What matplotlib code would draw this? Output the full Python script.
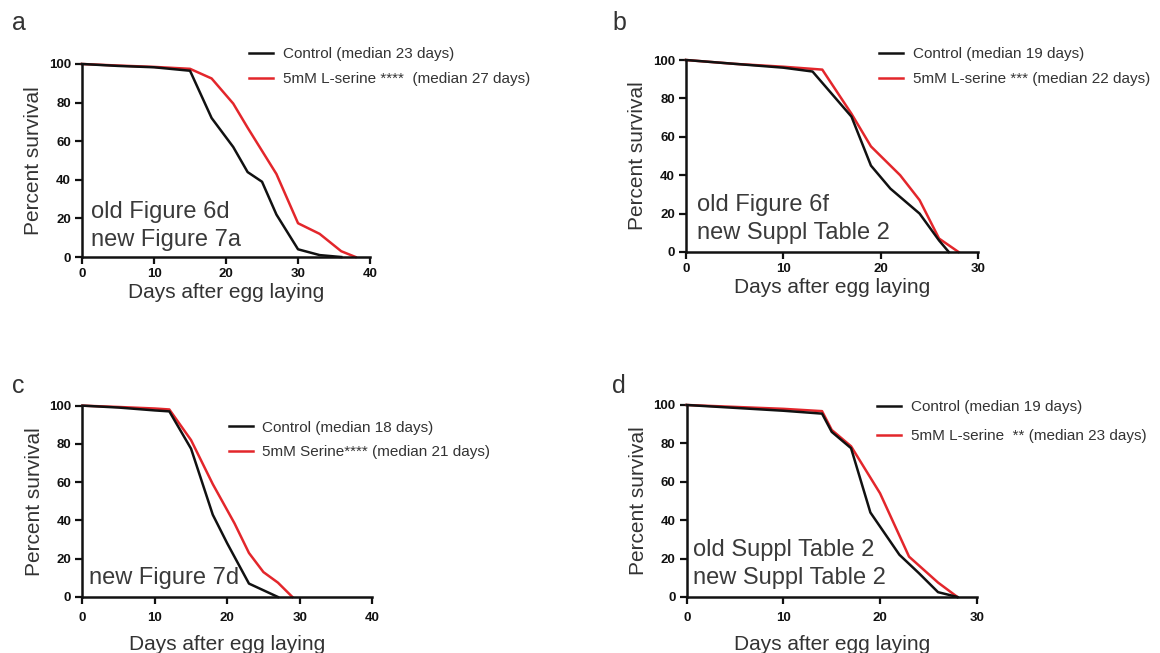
import matplotlib
matplotlib.use("Agg")
import matplotlib.pyplot as plt

plt.rcParams["font.family"] = ["Liberation Sans", "DejaVu Sans"]

RED = "#e3262b"
BLACK = "#111111"
GREY = "#333333"

# panel a
a_ctrl_days = [0, 5, 10, 15, 18, 21, 23, 25, 27, 30, 33, 36]
a_ctrl_surv = [100, 99, 98.3, 96.5, 72, 57, 44, 39, 22, 4, 1, 0]
a_ser_days = [0, 5, 10, 15, 18, 21, 23, 25, 27, 30, 33, 36, 38]
a_ser_surv = [100, 99.2, 98.5, 97.5, 92.5, 79.5, 67, 55, 43, 17.5, 12, 3, 0]

# panel b
b_ctrl_days = [0, 5, 10, 13, 17, 19, 21, 24, 26, 27]
b_ctrl_surv = [100, 98, 96, 94, 70.5, 45, 33, 20, 6, 0]
b_ser_days = [0, 5, 10, 14, 17, 19, 22, 24, 26, 28]
b_ser_surv = [100, 98, 96.5, 95, 72, 55, 40, 27, 7, 0]

# panel c
c_ctrl_days = [0, 5, 10, 12, 15, 18, 20, 23, 27]
c_ctrl_surv = [100, 99, 97.5, 97, 77.5, 43, 28, 7, 0]
c_ser_days = [0, 5, 10, 12, 15, 18, 21, 23, 25, 27, 29]
c_ser_surv = [100, 99.3, 98.5, 98, 82, 59, 38.5, 23, 13, 7.5, 0]

# panel d
d_ctrl_days = [0, 5, 10, 14, 15, 17, 19, 22, 24, 26, 28]
d_ctrl_surv = [100, 98.5, 97, 95.5, 86, 77.5, 44, 22, 12.5, 2.5, 0]
d_ser_days = [0, 5, 10, 14, 15, 17, 20, 23, 26, 28]
d_ser_surv = [100, 99, 98, 96.8, 87, 78.5, 54, 21, 7.5, 0]

panels = [
    dict(letter="a", rect=[0.0707, 0.6064, 0.2483, 0.2956], xmax=40,
         ctrl=(a_ctrl_days, a_ctrl_surv), ser=(a_ser_days, a_ser_surv),
         labels=["Control (median 23 days)", "5mM L-serine ****  (median 27 days)"],
         leg_xy=(0.2147, 0.898), leg_sp=0.75, tpad=3, xpad=2,
         notes=["old Figure 6d", "new Figure 7a"], note_xy=(91, 212), letter_xy=(12, 23)),
    dict(letter="b", rect=[0.5914, 0.6141, 0.2517, 0.294], xmax=30,
         ctrl=(b_ctrl_days, b_ctrl_surv), ser=(b_ser_days, b_ser_surv),
         labels=["Control (median 19 days)", "5mM L-serine *** (median 22 days)"],
         leg_xy=(0.7578, 0.898), leg_sp=0.75, tpad=3, xpad=2,
         notes=["old Figure 6f", "new Suppl Table 2"], note_xy=(697, 205), letter_xy=(612, 23)),
    dict(letter="c", rect=[0.0711, 0.0858, 0.2496, 0.293], xmax=40,
         ctrl=(c_ctrl_days, c_ctrl_surv), ser=(c_ser_days, c_ser_surv),
         labels=["Control (median 18 days)", "5mM Serine**** (median 21 days)"],
         leg_xy=(0.197, 0.326), leg_sp=0.7, tpad=6, xpad=8,
         notes=["new Figure 7d"], note_xy=(89, 578), letter_xy=(12, 386)),
    dict(letter="d", rect=[0.592, 0.0858, 0.25, 0.294], xmax=30,
         ctrl=(d_ctrl_days, d_ctrl_surv), ser=(d_ser_days, d_ser_surv),
         labels=["Control (median 19 days)", "5mM L-serine  ** (median 23 days)"],
         leg_xy=(0.756, 0.3545), leg_sp=1.0, tpad=6, xpad=8,
         notes=["old Suppl Table 2", "new Suppl Table 2"], note_xy=(693, 550), letter_xy=(612, 386)),
]

W, H = 1160, 653
fig = plt.figure(figsize=(W / 100, H / 100), dpi=100)

for p in panels:
    ax = fig.add_axes(p["rect"])
    l1, = ax.plot(*p["ctrl"], color=BLACK, lw=1.8, clip_on=False, zorder=3)
    l2, = ax.plot(*p["ser"], color=RED, lw=1.8, clip_on=False, zorder=2)
    ax.set_xlim(0, p["xmax"])
    ax.set_ylim(0, 100)
    ax.set_xticks(range(0, p["xmax"] + 1, 10))
    ax.set_yticks(range(0, 101, 20))
    for s in ["top", "right"]:
        ax.spines[s].set_visible(False)
    for s in ["left", "bottom"]:
        ax.spines[s].set_linewidth(1.8)
        ax.spines[s].set_color(BLACK)
    ax.tick_params(axis="both", direction="out", length=5, width=1.6,
                   labelsize=9.5, colors=BLACK)
    ax.tick_params(axis="x", pad=p["tpad"])
    ax.tick_params(axis="y", pad=3)
    for t in ax.get_xticklabels() + ax.get_yticklabels():
        t.set_fontweight("bold")
    ax.set_ylabel("Percent survival", fontsize=15, color=GREY, labelpad=4)
    ax.set_xlabel("Days after egg laying", fontsize=15, color=GREY, labelpad=p["xpad"])
    ax.set_facecolor("none")

    fig.legend([l1, l2], p["labels"], loc="center left",
               bbox_to_anchor=p["leg_xy"], bbox_transform=fig.transFigure,
               frameon=False, fontsize=11, handlelength=1.6, handletextpad=0.6,
               labelspacing=p["leg_sp"], borderpad=0, borderaxespad=0,
               labelcolor=GREY)

    nx, ny = p["note_xy"]
    for i, note in enumerate(p["notes"]):
        fig.text(nx / W, 1 - (ny + i * 28) / H, note, fontsize=17,
                 color="#3a3a3a", ha="left", va="center")

    lx, ly = p["letter_xy"]
    fig.text(lx / W, 1 - ly / H, p["letter"], fontsize=18, color=GREY,
             ha="left", va="center")

fig.savefig("out.png", dpi=100, facecolor="white")
